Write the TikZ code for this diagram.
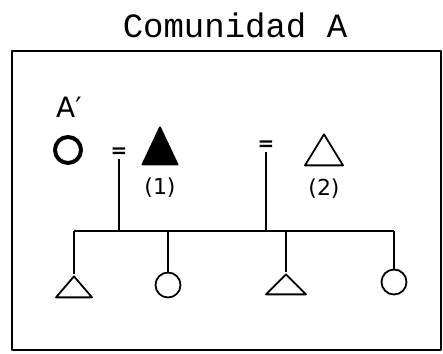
\documentclass[tikz,border=0pt]{standalone}
\usepackage{fontspec}
\setmonofont{Liberation Mono}
\newfontfamily\handfont{DejaVu Sans}
\usetikzlibrary{shapes.geometric,positioning}

\begin{document}
\begin{tikzpicture}[
	x=1pt,y=-1pt,
	line width=1.8pt,
	line join=round,
	woman node/.style={circle,draw,minimum size=25pt,inner sep=0pt},
	man node/.style={isosceles triangle,isosceles triangle stretches,shape border rotate=90,draw,inner sep=0pt,anchor=apex},
	dead node/.style={man node,fill=black},
	tie node/.style={font=\handfont\fontsize{20}{20}\selectfont\bfseries,inner sep=0pt},
	num node/.style={font=\handfont\fontsize{22}{22}\selectfont,inner sep=0pt}
]
\useasboundingbox (0,0) rectangle (443,353);

% titulo y recuadro
\node[font=\ttfamily\fontsize{34}{34}\selectfont] (title) at (235,25) {Comunidad A};
\draw[line width=2.2pt] (12,51) rectangle (441,350);

% padres
\node[font=\handfont\fontsize{28}{28}\selectfont,inner sep=0pt] (aprime) at (69,107) {A′};
\node[woman node,line width=4pt,minimum size=26pt] (ego) at (68,150) {};
\node[tie node] (tie1) at (119,153) {=};
\node[dead node,minimum width=35pt,minimum height=37pt] (h1) at (160,125) {};
\node[num node] (n1) [below=12pt of h1] {(1)};
\node[tie node] (tie2) at (266,146) {=};
\node[man node,minimum width=38pt,minimum height=31pt] (h2) at (324,132) {};
\node[num node] (n2) [below=12pt of h2] {(2)};

% hijos
\node[man node,minimum width=36pt,minimum height=21pt] (c1) at (74,274) {};
\node[woman node] (c2) at (168,285) {};
\node[man node,minimum width=40pt,minimum height=20pt] (c3) at (286,272) {};
\node[woman node] (c4) at (394,282) {};

\coordinate (bar) at (0,231);
\coordinate (m1) at (tie1.south |- bar);
\coordinate (m2) at (tie2.south |- bar);

\draw (c1.apex |- bar) -- (c4.north |- bar);
\path
(tie1.south) edge (m1)
(tie2.south) edge (m2)
(c1.apex |- bar) edge (c1.apex)
(c2.north |- bar) edge (c2.north)
(c3.apex |- bar) edge (c3.apex)
(c4.north |- bar) edge (c4.north)
;
\end{tikzpicture}
\end{document}
